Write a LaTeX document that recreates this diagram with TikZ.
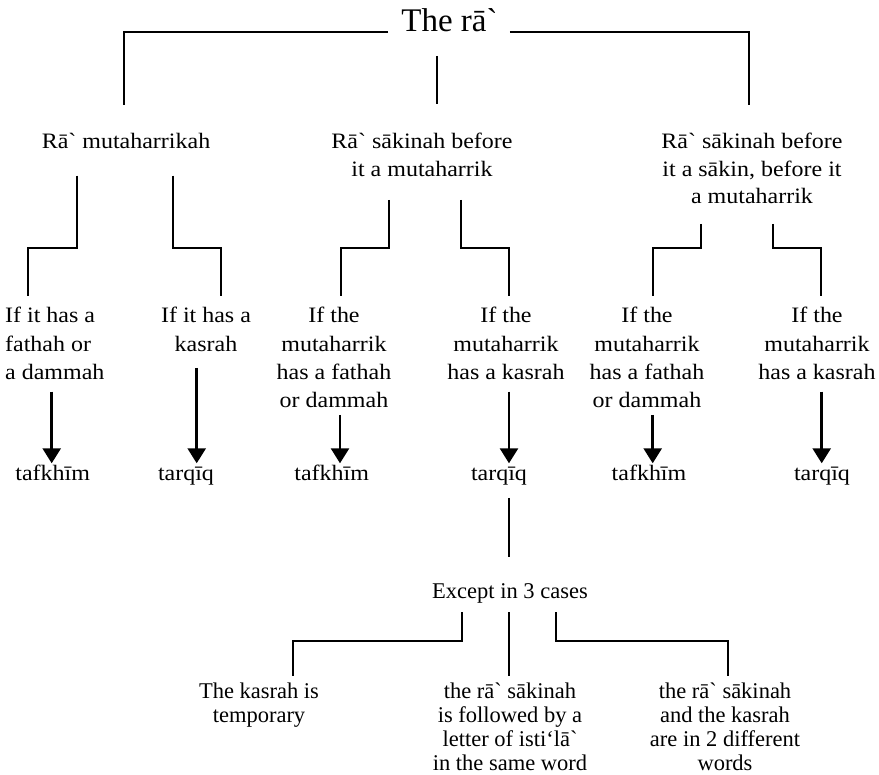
\documentclass[tikz,border=0pt]{standalone}
\usepackage{fontspec}
\setmainfont[Ligatures=TeXOff]{Liberation Serif}
\newfontfamily\pal[FakeStretch=1.09,Ligatures=TeXOff]{Liberation Serif}
\usetikzlibrary{arrows.meta}
\begin{document}
\begin{tikzpicture}[x=1pt,y=-1pt,
  conn/.style={line width=1.7pt},
  arr/.style={line width=2.6pt,-{Triangle[width=18pt,length=15pt]}},
  ttl/.style={inner sep=0pt,anchor=base,font=\fontsize{33}{40}\selectfont},
  mid/.style={inner sep=0pt,anchor=base,align=center,font=\pal\fontsize{22}{27.5}\selectfont},
  lv3/.style={inner sep=0pt,anchor=base,align=center,font=\pal\fontsize{22}{28.3}\selectfont},
  low/.style={inner sep=0pt,anchor=base,align=center,font=\fontsize{22.5}{24}\selectfont}]
\useasboundingbox (0,0) rectangle (879,775);
% title (anchor base = baseline of the last line)
\node[ttl] (t) at (449.5,32) {The rā`};
\coordinate (tl) at (124,32);
\coordinate (tr) at (749,32);
\coordinate (tlb) at (124,105);
\coordinate (trb) at (749,105);
\coordinate (tc1) at (437,56);
\coordinate (tc2) at (437,104);
\draw[conn] (t.base west |- tl) ++(-13,0) -- (tl) -- (tlb);
\draw[conn] (t.base east |- tr) ++(12,0) -- (tr) -- (trb);
\draw[conn] (tc1) -- (tc2);
% level 2
\node[mid] (a) at (126,149) {Rā` mutaharrikah};
\node[mid] (b) at (422,176.5) {Rā` sākinah before\\it a mutaharrik};
\node[mid] (c) at (752,204) {Rā` sākinah before\\it a sākin, before it\\a mutaharrik};
% Z connectors
\draw[conn] (76.7,175.7) -- (76.7,248) -- (28.3,248) -- (28.3,296.5);
\draw[conn] (172.7,175.7) -- (172.7,248) -- (220.7,248) -- (220.7,296.5);
\draw[conn] (389,200) -- (389,248) -- (340.7,248) -- (340.7,296.5);
\draw[conn] (461,200) -- (461,248) -- (509.3,248) -- (509.3,296.5);
\draw[conn] (701,224) -- (701,248) -- (652.7,248) -- (652.7,296.5);
\draw[conn] (772.7,224) -- (772.7,248) -- (821,248) -- (821,296.5);
% level 3
\node[lv3,align=left,anchor=base west] (a1) at (5,379.6) {If it has a\\fathah or\\a dammah};
\node[lv3] (a2) at (206,351.3) {If it has a\\kasrah};
\node[lv3] (b1) at (334,407.9) {If the\\mutaharrik\\has a fathah\\or dammah};
\node[lv3] (b2) at (506,379.6) {If the\\mutaharrik\\has a kasrah};
\node[lv3] (c1) at (647,407.9) {If the\\mutaharrik\\has a fathah\\or dammah};
\node[lv3] (c2) at (817,379.6) {If the\\mutaharrik\\has a kasrah};
% level 4
\node[mid] (a1r) at (52.7,481) {tafkhīm};
\node[mid] (a2r) at (186,481) {tarqīq};
\node[mid] (b1r) at (331.7,481) {tafkhīm};
\node[mid] (b2r) at (499,481) {tarqīq};
\node[mid] (c1r) at (649,481) {tafkhīm};
\node[mid] (c2r) at (822,481) {tarqīq};
\draw[arr] (51.7,391.7) -- (51.7,463.3);
\draw[arr] (196.7,368) -- (196.7,463.3);
\draw[arr] (340,415) -- (340,463.3);
\draw[arr] (509,391.7) -- (509,463.3);
\draw[arr] (652.7,415) -- (652.7,463.3);
\draw[arr] (821.7,391.7) -- (821.7,463.3);
% exceptions
\draw[conn] (509,498) -- (509,557);
\node[low] (ex) at (510,598) {Except in 3 cases};
\draw[conn] (462,612) -- (462,641) -- (293,641) -- (293,676);
\draw[conn] (509,612) -- (509,676);
\draw[conn] (556,612) -- (556,641) -- (728,641) -- (728,676);
\node[low] (e1) at (259,722) {The kasrah is\\temporary};
\node[low] (e2) at (510,770) {the rā` sākinah\\is followed by a\\letter of isti‘lā`\\in the same word};
\node[low] (e3) at (725,770) {the rā` sākinah\\and the kasrah\\are in 2 different\\words};
\end{tikzpicture}
\end{document}
